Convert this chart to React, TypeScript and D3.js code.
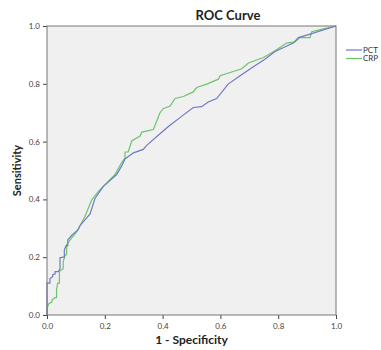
import React, { useEffect, useRef } from "react";
import * as d3 from "d3";

// 1 - specificity / sensitivity pairs
const pctX = [0, 0, 0.01, 0.01, 0.02, 0.02, 0.028, 0.028, 0.039, 0.045, 0.045, 0.056, 0.06, 0.06, 0.066, 0.072, 0.072, 0.085, 0.108, 0.114, 0.149, 0.166, 0.195, 0.241, 0.258, 0.27, 0.299, 0.333, 0.345, 0.385, 0.42, 0.46, 0.506, 0.535, 0.558, 0.587, 0.627, 0.668, 0.714, 0.754, 0.789, 0.852, 0.87, 0.91, 1.0];
const pctY = [0, 0.11, 0.11, 0.125, 0.133, 0.14, 0.142, 0.15, 0.15, 0.16, 0.198, 0.2, 0.2, 0.225, 0.24, 0.24, 0.26, 0.275, 0.295, 0.309, 0.35, 0.403, 0.445, 0.486, 0.515, 0.54, 0.561, 0.573, 0.587, 0.622, 0.652, 0.683, 0.718, 0.721, 0.737, 0.749, 0.799, 0.828, 0.859, 0.885, 0.912, 0.941, 0.96, 0.972, 1.0];

const crpX = [0, 0, 0.005, 0.017, 0.017, 0.028, 0.033, 0.033, 0.037, 0.043, 0.043, 0.05, 0.056, 0.056, 0.062, 0.068, 0.068, 0.08, 0.103, 0.131, 0.155, 0.178, 0.207, 0.235, 0.258, 0.27, 0.27, 0.281, 0.293, 0.322, 0.328, 0.368, 0.391, 0.402, 0.426, 0.443, 0.472, 0.506, 0.518, 0.553, 0.593, 0.599, 0.674, 0.697, 0.749, 0.789, 0.829, 0.858, 0.875, 0.91, 0.916, 0.956, 1.0];
const crpY = [0, 0.02, 0.038, 0.045, 0.052, 0.06, 0.06, 0.087, 0.11, 0.11, 0.15, 0.156, 0.16, 0.184, 0.205, 0.21, 0.243, 0.26, 0.288, 0.341, 0.399, 0.428, 0.457, 0.486, 0.527, 0.544, 0.564, 0.564, 0.602, 0.619, 0.633, 0.642, 0.7, 0.714, 0.723, 0.749, 0.756, 0.772, 0.787, 0.799, 0.816, 0.828, 0.852, 0.872, 0.891, 0.914, 0.941, 0.945, 0.96, 0.96, 0.98, 0.99, 1.0];

const seriesNames = ["PCT", "CRP"];
const seriesColors = ["#7079c4", "#6cc46a"];
const ticks = [0, 0.2, 0.4, 0.6, 0.8, 1.0];

export default function App() {
    const svgRef = useRef<SVGSVGElement>(null);

    useEffect(() => {
        const svg = d3.select(svgRef.current);
        svg.selectAll("*").remove();

        const left = 47, top = 26, right = 336, bottom = 315;
        const x = d3.scaleLinear().domain([0, 1]).range([left, right]);
        const y = d3.scaleLinear().domain([0, 1]).range([bottom, top]);
        const font = "Lato, 'Open Sans', sans-serif";

        svg.append("rect")
            .attr("x", left).attr("y", top)
            .attr("width", right - left).attr("height", bottom - top)
            .attr("fill", "#f0f0f0");

        // axes
        const xAxis = svg.append("g")
            .attr("transform", `translate(0,${bottom})`)
            .call(d3.axisBottom(x).tickValues(ticks).tickFormat(d3.format(".1f")).tickSize(4));
        const yAxis = svg.append("g")
            .attr("transform", `translate(${left},0)`)
            .call(d3.axisLeft(y).tickValues(ticks).tickFormat(d3.format(".1f")).tickSize(4));
        [xAxis, yAxis].forEach(a => {
            a.select(".domain").remove();
            a.selectAll("line").attr("stroke", "#444");
            a.selectAll("text").attr("fill", "#444").style("font-size", "8px").style("font-family", font);
        });
        xAxis.selectAll("text").attr("dy", "0.9em");

        const data = [d3.zip(pctX, pctY), d3.zip(crpX, crpY)];
        const line = d3.line<number[]>().x(d => x(d[0])).y(d => y(d[1]));

        // green drawn first so blue stays visible where they overlap
        [1, 0].forEach(i => {
            svg.append("path")
                .attr("d", line(data[i]))
                .attr("fill", "none")
                .attr("stroke", seriesColors[i])
                .attr("stroke-width", 1.2);
        });

        svg.append("rect")
            .attr("x", left).attr("y", top)
            .attr("width", right - left).attr("height", bottom - top)
            .attr("fill", "none").attr("stroke", "#777").attr("stroke-width", 1);

        svg.append("text")
            .attr("x", 228).attr("y", 20)
            .attr("text-anchor", "middle")
            .style("font-family", font).style("font-size", "13px").style("font-weight", "bold")
            .attr("fill", "#222")
            .text("ROC Curve");

        svg.append("text")
            .attr("transform", `translate(21,${(top + bottom) / 2}) rotate(-90)`)
            .attr("text-anchor", "middle")
            .style("font-family", font).style("font-size", "11px").style("font-weight", "bold")
            .attr("fill", "#222")
            .text("Sensitivity");

        svg.append("text")
            .attr("x", (left + right) / 2).attr("y", 344)
            .attr("text-anchor", "middle")
            .style("font-family", font).style("font-size", "12px").style("font-weight", "bold")
            .attr("fill", "#222")
            .text("1 - Specificity");

        // legend
        seriesNames.forEach((name, i) => {
            const ly = 50 + i * 8.5;
            svg.append("line")
                .attr("x1", 346).attr("x2", 362)
                .attr("y1", ly).attr("y2", ly)
                .attr("stroke", seriesColors[i]).attr("stroke-width", 1.2);
            svg.append("text")
                .attr("x", 363).attr("y", ly)
                .attr("dy", "0.35em")
                .style("font-family", font).style("font-size", "8px")
                .attr("fill", "#333")
                .text(name);
        });
    }, []);

    return (
        <svg ref={svgRef} width={381} height={350}
            style={{ position: "absolute", left: 0, top: 0, background: "#fff" }} />
    );
}
